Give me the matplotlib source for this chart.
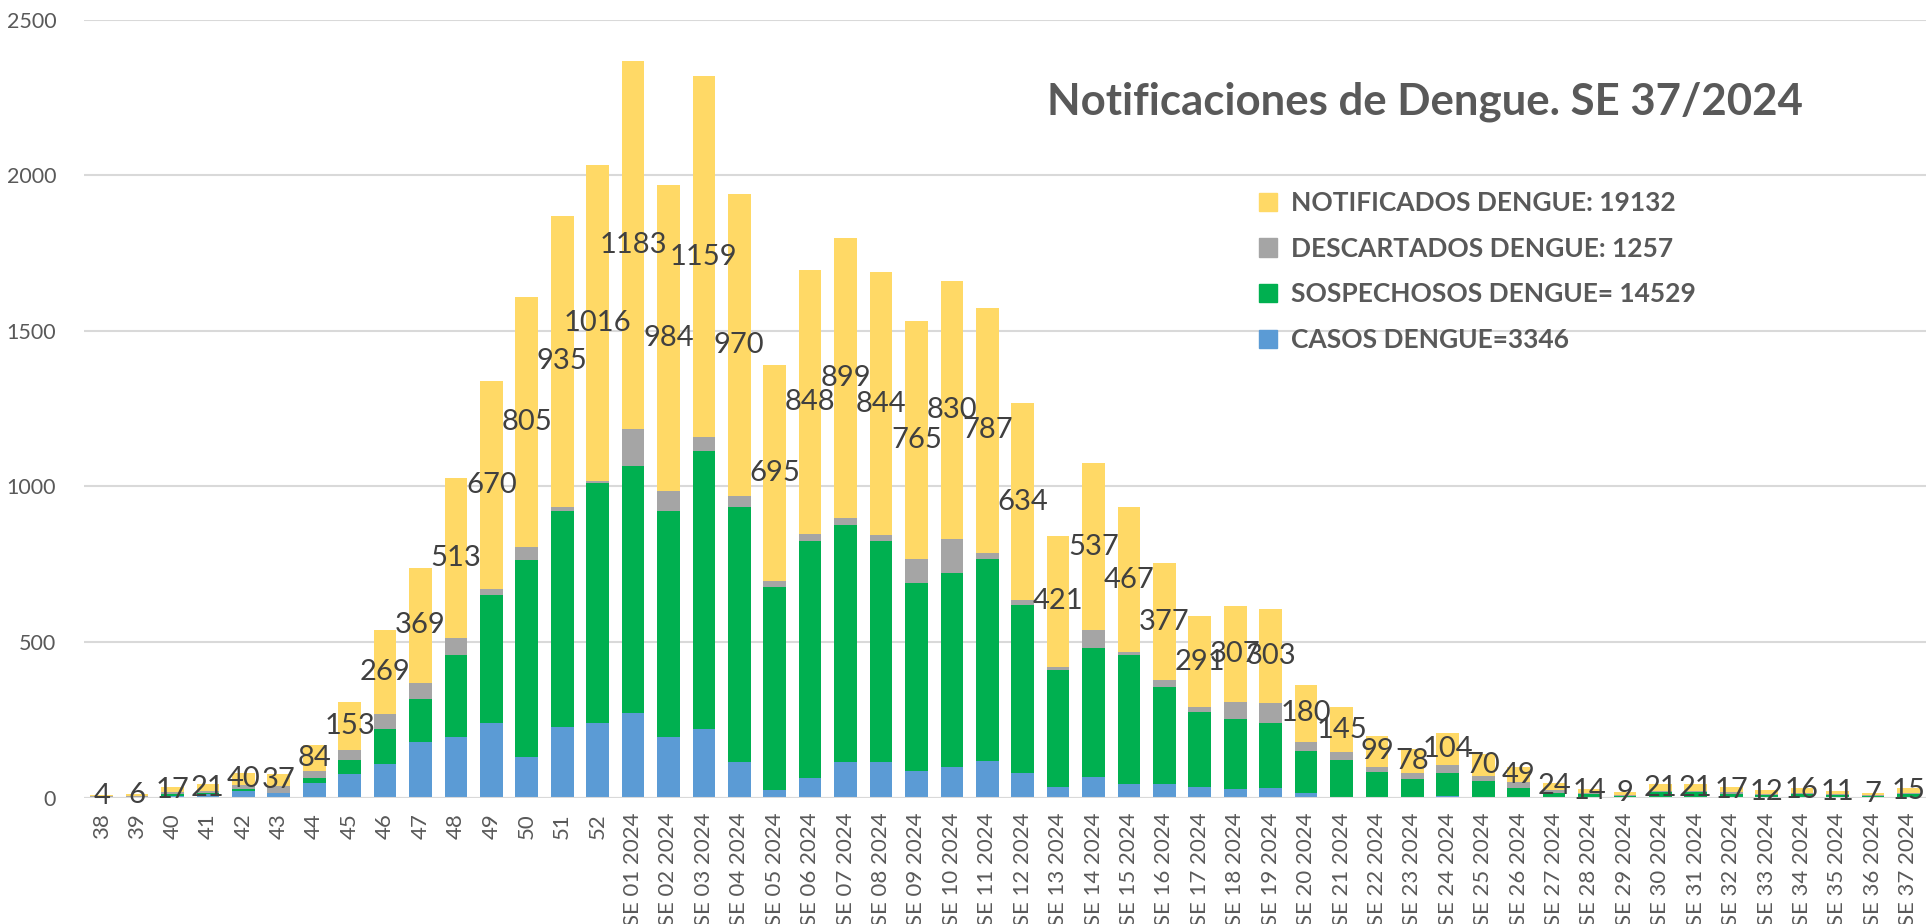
import matplotlib
matplotlib.use("Agg")
import matplotlib.pyplot as plt
from matplotlib.patches import Patch
import numpy as np

weeks = ["38", "39", "40", "41", "42", "43", "44", "45", "46", "47", "48", "49", "50", "51", "52"] + \
        [f"SE {i:02d} 2024" for i in range(1, 38)]

casos = [1, 2, 5, 11, 22, 14, 48, 75, 107, 179, 196, 239, 131, 227, 239,
         272, 195, 220, 114, 24, 62, 115, 115, 86, 99, 118, 79, 34, 67, 45,
         42, 34, 28, 31, 15, 1, 0, 0, 5, 0, 1, 0, 0, 1, 0, 0, 0, 0, 0, 0, 0, 0]
sospechosos = [1, 1, 6, 4, 4, 2, 15, 44, 113, 139, 263, 411, 633, 695, 771,
               795, 727, 893, 821, 652, 764, 761, 711, 605, 622, 650, 539, 377, 413, 412,
               314, 242, 225, 209, 136, 121, 83, 60, 74, 52, 28, 14, 10, 4, 18, 18, 12, 9, 12, 8, 5, 12]
notificados = [4, 6, 17, 21, 40, 37, 84, 153, 269, 369, 513, 670, 805, 935, 1016,
               1183, 984, 1159, 970, 695, 848, 899, 844, 765, 830, 787, 634, 421, 537, 467,
               377, 291, 307, 303, 180, 145, 99, 78, 104, 70, 49, 24, 14, 9, 21, 21, 17, 12, 16, 11, 7, 15]
descartados = [n - c - s for n, c, s in zip(notificados, casos, sospechosos)]

legend_labels = ["NOTIFICADOS DENGUE: 19132", "DESCARTADOS DENGUE: 1257",
                 "SOSPECHOSOS DENGUE= 14529", "CASOS DENGUE=3346"]
title = "Notificaciones de Dengue. SE 37/2024"

c_blue = "#5B9BD5"
c_green = "#00B050"
c_gray = "#A5A5A5"
c_yellow = "#FFD966"
txt = "#595959"

plt.rcParams['font.family'] = ['Lato', 'DejaVu Sans']

fig = plt.figure(figsize=(19.26, 9.24), dpi=100)
ax = fig.add_axes([0.0436, 0.1369, 0.9564, 0.8418])

x = np.arange(len(weeks))
w = 0.64
b1 = np.array(casos)
b2 = b1 + np.array(sospechosos)
b3 = b2 + np.array(descartados)
ax.bar(x, casos, w, color=c_blue, zorder=3)
ax.bar(x, sospechosos, w, bottom=b1, color=c_green, zorder=3)
ax.bar(x, descartados, w, bottom=b2, color=c_gray, zorder=3)
bars_y = ax.bar(x, notificados, w, bottom=b3, color=c_yellow, zorder=3)
ax.bar_label(bars_y, labels=[str(v) for v in notificados], label_type='center',
             fontsize=21, color="#404040", zorder=5)

ax.set_xlim(-0.5, len(weeks) - 0.5)
ax.set_ylim(0, 2500)
ax.set_yticks(np.arange(0, 2501, 500))
ax.set_xticks(x)
ax.set_xticklabels(weeks, rotation=90, fontsize=16, color=txt)
ax.tick_params(axis='x', length=0, pad=11)
ax.tick_params(axis='y', length=0, pad=20, labelsize=15.5, labelcolor=txt)
ax.yaxis.grid(True, color="#D9D9D9", linewidth=1.5, zorder=0)
for s in ax.spines.values():
    s.set_visible(False)
ax.axhline(0, color="#D9D9D9", linewidth=1.5, zorder=4)

fig.text(0.74, 0.89, title, fontsize=31.5, fontweight='bold', color=txt, ha='center', va='center')

handles = [Patch(color=c) for c in [c_yellow, c_gray, c_green, c_blue]]
leg = ax.legend(handles, legend_labels, loc='upper left', bbox_to_anchor=(0.625, 0.81),
                frameon=False, handlelength=0.7, handleheight=0.7, handletextpad=0.5,
                labelspacing=0.82, prop={'size': 19, 'weight': 'bold'})
for t in leg.get_texts():
    t.set_color(txt)

fig.savefig("out.png", dpi=100)
